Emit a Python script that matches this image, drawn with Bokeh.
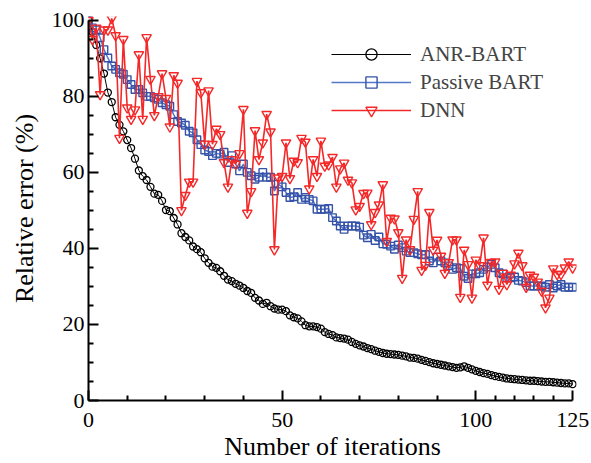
from bokeh.plotting import figure
from bokeh.models import Range1d, FixedTicker, Legend, LegendItem
from bokeh.embed import file_html
from bokeh.resources import INLINE

iterations = list(range(126))

anr_bart = [
    100, 97, 93.5, 90, 86, 81, 78.5, 74.5, 72.5, 70.8,
    68.5, 66.4, 63.6, 60.5, 59, 58, 56.2, 54.4, 54.1, 52.5,
    50.1, 49.8, 48, 46.3, 44, 43, 42.1, 40.5, 39.8, 39,
    37.4, 36.2, 35.2, 34.9, 34, 32.8, 31.8, 31.4, 30.7, 30.2,
    29.6, 28.8, 28.3, 27, 26.3, 25.4, 25.7, 24.8, 24.2, 23.9,
    23.9, 23.5, 22.4, 21.9, 21.6, 20.8, 19.8, 19.5, 19.5, 19.3,
    18.9, 18, 17.5, 17.2, 16.6, 16.4, 16.3, 16, 15.4, 14.9,
    14.5, 14.2, 13.8, 13.5, 13.1, 12.8, 12.5, 12.3, 12.2, 12.1,
    12, 11.8, 11.6, 11.3, 11.2, 11, 10.7, 10.4, 10.1, 9.8,
    9.6, 9.4, 9.2, 9, 8.8, 8.6, 8.7, 9, 8.6, 8.2,
    7.8, 7.5, 7.2, 7, 6.7, 6.4, 6.2, 6, 5.8, 5.7,
    5.6, 5.5, 5.4, 5.3, 5.2, 5.2, 5.1, 5, 4.9, 4.9,
    4.8, 4.7, 4.6, 4.5, 4.5, 4.3,
]

passive_bart = [
    100, 98, 97.5, 95.4, 92.3, 90.1, 88, 87.1, 86.2, 85.8,
    84.4, 83.1, 81.8, 81.8, 80.9, 80, 80, 79.6, 79.2, 78.3,
    77.8, 77.4, 75.2, 73.4, 73, 72.4, 70.8, 70.4, 68.6, 67.3,
    65.9, 65.5, 64.4, 65, 64.8, 65.3, 62.6, 64.4, 62.2, 60.4,
    62.2, 60, 59.1, 58.2, 58.7, 60, 58.7, 58.7, 55.1, 56.9,
    56.2, 54.7, 53.4, 53.6, 54.7, 52.9, 53.4, 52.9, 52.5, 50.3,
    50.3, 50.3, 50.5, 48.1, 47.2, 45.9, 45, 45.9, 45.9, 45.9,
    45.6, 43.5, 42.8, 43.7, 42.1, 43, 41.2, 41.1, 40.6, 39.8,
    40.9, 40.2, 39.3, 38.9, 38.9, 38.6, 38.3, 38.4, 36.7, 36.2,
    37.7, 36.7, 36.2, 35.4, 34.5, 34.9, 34.7, 32.7, 32.1, 33.3,
    33.3, 33.6, 34.5, 35.1, 35.8, 34.9, 33.6, 33.3, 32.3, 32.3,
    32.5, 31.6, 31.4, 31, 30.1, 30.1, 30.1, 30.1, 29.8, 30.5,
    29.6, 30.1, 30.5, 29.8, 29.8, 29.8,
]

dnn = [
    100, 95, 98, 80.5, 97.5, 97.5, 100.5, 96, 69, 95,
    77, 74, 76.5, 91, 74, 95.5, 84.5, 75, 80, 86,
    79.5, 72, 85.5, 83.5, 50, 54, 57.5, 57.5, 84, 81,
    67.5, 81.5, 67.4, 71.4, 70, 62.6, 56.2, 63.4, 62.2, 65,
    76.6, 49.3, 55, 71, 63.4, 67.8, 75.3, 70.7, 39.7, 58.6,
    59, 67.8, 58.4, 63, 62.6, 69, 68, 55.7, 63.4, 59,
    68.3, 61.7, 62, 64, 56.2, 61, 62.5, 58, 57.3, 50.2,
    51.1, 54.5, 54.6, 46.3, 49.5, 51.5, 56.8, 41.9, 48, 47.8,
    44.2, 32.2, 42.3, 39.7, 47.7, 55, 34.3, 35.6, 49.5, 39.6,
    42.2, 38, 33.5, 36.3, 42.3, 42.3, 27.2, 39.6, 35.8, 27,
    37, 35.5, 42.8, 30.4, 36.4, 36.5, 29.3, 33.5, 30.5, 33,
    36, 38.8, 35.5, 29.8, 33, 32.5, 31.2, 28.8, 24.4, 27,
    34.7, 33.2, 33.2, 34.9, 36.5, 34.9,
]

x_major = [0, 50, 100, 125]
x_minor = [10, 20, 30, 40, 60, 70, 80, 90, 105, 110, 115, 120]
y_major = [0, 20, 40, 60, 80, 100]
y_minor = [5, 10, 15, 25, 30, 35, 45, 50, 55, 65, 70, 75, 85, 90, 95]

FONT = "'Liberation Serif', 'Times New Roman', serif"

p = figure(width=591, height=463, x_range=Range1d(0, 126), y_range=Range1d(0, 101),
           output_backend="svg", toolbar_location=None,
           min_border_left=88, min_border_right=15, min_border_top=16, min_border_bottom=63)
p.outline_line_color = None
p.xgrid.visible = False
p.ygrid.visible = False
p.background_fill_color = "white"
p.border_fill_color = "white"

for ax, ticks, minor, bnds in ((p.xaxis[0], x_major, x_minor, (0, 125)),
                              (p.yaxis[0], y_major, y_minor, (0, 100))):
    ax.ticker = FixedTicker(ticks=ticks, minor_ticks=minor)
    ax.bounds = bnds
    ax.axis_line_width = 2
    ax.axis_line_color = "black"
    ax.major_tick_line_width = 2
    ax.minor_tick_line_width = 2
    ax.major_tick_in = 10
    ax.major_tick_out = 0
    ax.minor_tick_in = 5
    ax.minor_tick_out = 0
    ax.major_label_text_font = FONT
    ax.major_label_text_font_size = "22px"
    ax.major_label_text_color = "black"
    ax.axis_label_text_font = FONT
    ax.axis_label_text_font_size = "26px"
    ax.axis_label_text_font_style = "normal"
    ax.axis_label_text_color = "black"

p.xaxis[0].axis_label = "Number of iterations"
p.xaxis[0].major_label_standoff = 12
p.xaxis[0].axis_label_standoff = 2
p.yaxis[0].axis_label = "Relative error (%)"
p.yaxis[0].major_label_standoff = 4
p.yaxis[0].axis_label_standoff = 10

l1 = p.line(iterations, anr_bart, line_color="black", line_width=1)
s1 = p.scatter(iterations, anr_bart, marker="circle", size=7, line_color="black",
               line_width=1.3, fill_alpha=0)
l2 = p.line(iterations, passive_bart, line_color="#5577c8", line_width=1.5)
s2 = p.scatter(iterations, passive_bart, marker="square", size=7.5, line_color="#3452a8",
               line_width=1.4, fill_alpha=0)
l3 = p.line(iterations, dnn, line_color="#f42828", line_width=1.6)
s3 = p.scatter(iterations, dnn, marker="inverted_triangle", size=9.5, line_color="#f42828",
               line_width=1.4, fill_alpha=0)

legend = Legend(items=[LegendItem(label="ANR-BART", renderers=[l1, s1]),
                       LegendItem(label="Passive BART", renderers=[l2, s2]),
                       LegendItem(label="DNN", renderers=[l3, s3])],
                location=(243, 276), glyph_width=80, glyph_height=28, label_height=28,
                spacing=0, padding=0, margin=0, label_standoff=9,
                border_line_alpha=0, background_fill_alpha=0,
                label_text_font=FONT, label_text_font_size="21px")
p.add_layout(legend)

open("out.html", "w").write(file_html(p, INLINE))
